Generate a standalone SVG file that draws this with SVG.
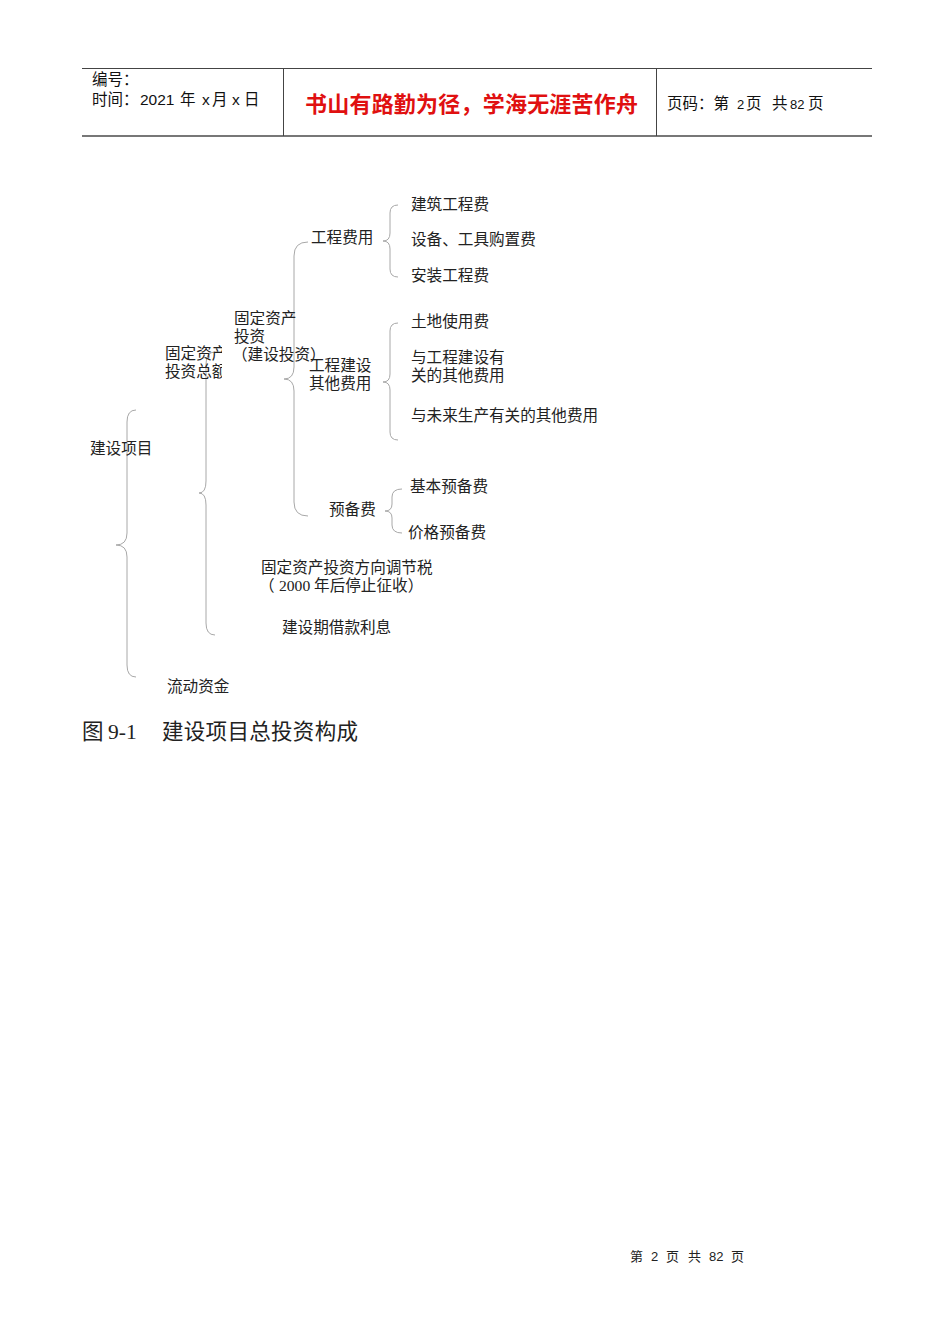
<svg xmlns="http://www.w3.org/2000/svg" width="950" height="1344" viewBox="0 0 950 1344">
<style>
.t{font-family:"Liberation Serif","Noto Sans CJK SC",serif;font-size:15.6px;fill:#222}
.h{font-family:"Liberation Sans","Noto Sans CJK SC",sans-serif;font-size:15.5px;fill:#111}
.b{fill:none;stroke:#a8a8a8;stroke-width:1}
</style>
<defs>
<clipPath id="c1"><rect x="150" y="330" width="72" height="60"/></clipPath>
<clipPath id="c2"><rect x="225" y="305" width="71" height="20"/></clipPath>
</defs>
<rect width="950" height="1344" fill="#fff"/>
<g id="header">
<line x1="82" y1="68.5" x2="872" y2="68.5" stroke="#444" stroke-width="1"/>
<line x1="82" y1="136" x2="872" y2="136" stroke="#777" stroke-width="2"/>
<line x1="283.5" y1="68" x2="283.5" y2="136" stroke="#444"/>
<line x1="656.5" y1="68" x2="656.5" y2="136" stroke="#444"/>
<text class="h" x="92" y="85">编号：</text>
<text class="h" y="105"><tspan x="92">时间：</tspan><tspan x="140">2021</tspan><tspan x="180">年</tspan><tspan x="202">x</tspan><tspan x="212">月</tspan><tspan x="232">x</tspan><tspan x="244">日</tspan></text>
<text x="305" y="112" font-family="Liberation Sans,'Noto Sans CJK SC',sans-serif" font-size="22" font-weight="bold" fill="#e01010" textLength="333" lengthAdjust="spacing">书山有路勤为径，学海无涯苦作舟</text>
<text class="h" y="109"><tspan x="667">页码：第</tspan><tspan x="737" font-size="13">2</tspan><tspan x="746">页</tspan><tspan x="772">共</tspan><tspan x="790" font-size="13">82</tspan><tspan x="808">页</tspan></text>
</g>
<g id="connectors">
<path class="b" d="M136,410 Q127,410 127,422 L127,533 Q127,545 116,545 Q127,545 127,557 L127,665 Q127,677 136,677"/>
<path class="b" d="M215,352 Q206,352 206,364 L206,481 Q206,493 199,493 Q206,493 206,505 L206,623 Q206,635 215,635"/>
<path class="b" d="M308,242 Q294,242 294,256 L294,367 Q294,379 284,379 Q294,379 294,391 L294,502 Q294,516 308,516"/>
<path class="b" d="M398,205 Q390,205 390,213 L390,233 Q390,241 383,241 Q390,241 390,249 L390,269 Q390,277 398,277"/>
<path class="b" d="M398,323 Q390,323 390,331 L390,374 Q390,382 383,382 Q390,382 390,390 L390,432 Q390,440 398,440"/>
<path class="b" d="M402,489 Q392,489 392,497 L392,504 Q392,511 385,511 Q392,511 392,518 L392,525 Q392,533 402,533"/>
</g>
<g id="n-jsxm"><text class="t" x="90" y="454">建设项目</text></g>
<g id="n-gdzctzze" clip-path="url(#c1)"><text class="t" x="165" y="359">固定资产</text><text class="t" x="165" y="377">投资总额</text></g>
<g id="n-gdzctz"><g clip-path="url(#c2)"><text class="t" x="234" y="324">固定资产</text></g><text class="t" x="234" y="342">投资</text><text class="t" x="232" y="360">（建设投资）</text></g>
<g id="n-gcfy"><text class="t" x="311" y="243">工程费用</text></g>
<g id="n-gcjsqtfy"><text class="t" x="309" y="371">工程建设</text><text class="t" x="309" y="389">其他费用</text></g>
<g id="n-ybf"><text class="t" x="329" y="515">预备费</text></g>
<g id="n-jzgcf"><text class="t" x="411" y="210">建筑工程费</text></g>
<g id="n-sbgj"><text class="t" x="411" y="245">设备、工具购置费</text></g>
<g id="n-azgcf"><text class="t" x="411" y="281">安装工程费</text></g>
<g id="n-tdsyf"><text class="t" x="411" y="327">土地使用费</text></g>
<g id="n-ygcjs"><text class="t" x="411" y="363">与工程建设有</text><text class="t" x="411" y="381">关的其他费用</text></g>
<g id="n-ywl"><text class="t" x="411" y="421">与未来生产有关的其他费用</text></g>
<g id="n-jbybf"><text class="t" x="410" y="492">基本预备费</text></g>
<g id="n-jgybf"><text class="t" x="408" y="538">价格预备费</text></g>
<g id="n-tzfxtjs"><text class="t" x="261" y="573">固定资产投资方向调节税</text><text class="t" y="591"><tspan x="259">（</tspan><tspan x="279">2000 年后停止征收）</tspan></text></g>
<g id="n-jsqjklx"><text class="t" x="282" y="633">建设期借款利息</text></g>
<g id="n-ldzj"><text class="t" x="167" y="692">流动资金</text></g>
<g id="caption" font-family="Liberation Serif,'Noto Sans CJK SC',serif" font-size="21.5" fill="#222"><text x="82" y="739">图</text><text x="108" y="739">9-1</text><text x="162" y="739" textLength="196" lengthAdjust="spacing">建设项目总投资构成</text></g>
<g id="footer"><text y="1261" font-family="Liberation Sans,'Noto Sans CJK SC',sans-serif" font-size="13" fill="#222"><tspan x="630">第</tspan><tspan x="651">2</tspan><tspan x="666">页</tspan><tspan x="688">共</tspan><tspan x="709">82</tspan><tspan x="731">页</tspan></text></g>
</svg>
